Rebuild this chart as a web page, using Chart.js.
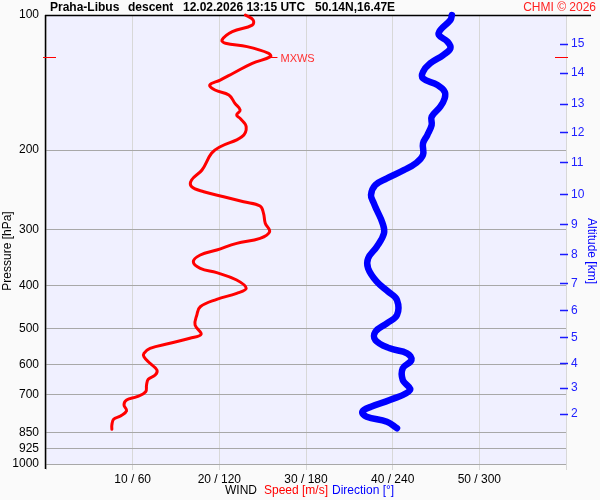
<!DOCTYPE html>
<html>
<head>
<meta charset="utf-8">
<script src="https://cdn.jsdelivr.net/npm/chart.js@4.4.1/dist/chart.umd.min.js"></script>
<style>
  body { margin: 0; background: #fafafa; }
  #wrap { width: 600px; height: 500px; }
</style>
</head>
<body>
<div id="wrap"><canvas id="c" width="600" height="500"></canvas></div>
<script>
// wind speed profile (pressure hPa -> m/s)
const speedPres = [100, 102.6, 105.3, 108.9, 113.7, 115.6, 117.6, 121.7, 123.8, 128.1, 134.8, 139.6, 143.2, 146.9, 150.7, 157.3, 162.8, 167.1, 169.9, 177.4, 186.7, 196.5, 203.2, 221.4, 233.1, 241.2, 247.5, 253.9, 260.5, 266.3, 276.5, 290.9, 303.8, 314.3, 322.5, 333.8, 342.4, 354.4, 366.6, 374.9, 389.2, 406.2, 416.8, 429.9, 446.5, 465.9, 490.3, 514.2, 524.8, 538.5, 552.5, 566.8, 576.8, 596.7, 617.5, 633.6, 647.7, 667.0, 690.2, 708.2, 720.3, 739.0, 760.9, 781.9, 795.2, 818.9, 837.2];
const speed = [23.0, 23.9, 23.8, 21.5, 20.3, 20.7, 23.2, 25.7, 25.9, 23.8, 21.6, 20.1, 18.9, 19.5, 21.1, 21.8, 22.4, 22.0, 22.4, 23.1, 22.6, 20.1, 19.1, 18.0, 16.8, 16.8, 18.2, 20.5, 22.8, 24.7, 25.1, 25.3, 25.8, 24.7, 22.0, 19.7, 17.8, 17.0, 17.8, 19.7, 22.0, 23.1, 22.0, 19.7, 17.8, 17.4, 17.2, 17.9, 16.6, 14.3, 12.0, 11.3, 11.3, 12.0, 12.8, 12.6, 11.8, 11.6, 11.5, 10.5, 9.3, 9.0, 9.3, 8.6, 7.8, 7.6, 7.6];

// wind direction profile (pressure hPa -> degrees)
const dirPres = [100, 102.6, 108.0, 110.8, 114.7, 118.6, 122.8, 128.1, 133.8, 138.4, 143.2, 148.2, 153.3, 160.0, 168.5, 175.8, 185.1, 193.1, 205.0, 213.9, 221.4, 231.1, 239.1, 251.7, 262.7, 271.9, 290.9, 306.4, 328.1, 348.3, 366.6, 392.6, 413.4, 431.3, 465.9, 486.1, 507.5, 529.6, 552.5, 566.8, 586.7, 612.2, 650.2, 684.2, 720.3, 745.4, 764.7, 784.7, 805.0, 832.7];
const direction = [281, 280, 273, 272, 278, 280, 275, 266, 261, 261, 271, 276, 276, 273, 267, 267, 264, 261, 261, 256, 248, 236, 228, 225, 227, 229, 233, 234, 229, 223, 223, 229, 237, 243, 243, 236, 228, 228, 238, 250, 253, 247, 247, 252, 238, 225, 219, 222, 236, 243];

// axis ticks
const pressureTicks = [100, 200, 300, 400, 500, 600, 700, 850, 925, 1000];
const altKm = [2, 3, 4, 5, 6, 7, 8, 9, 10, 11, 12, 13, 14, 15];
const altPres = [772.7, 677.1, 596.7, 522.2, 454.7, 395.9, 341.5, 292.6, 250.8, 212.9, 182.5, 157.8, 134.6, 116.0];
const speedTicks = [0, 10, 20, 30, 40, 50, 60];

const FONT = 'Arial, "Liberation Sans", sans-serif';
Chart.defaults.font.family = FONT;
Chart.defaults.font.size = 12;
Chart.defaults.color = '#000';

// max wind level
const maxIdx = speed.indexOf(Math.max(...speed));
const maxPres = speedPres[maxIdx];

const decor = {
  id: 'decor',
  beforeDraw(chart) {
    const ctx = chart.ctx, a = chart.chartArea;
    ctx.save();
    ctx.fillStyle = '#fafafa';
    ctx.fillRect(0, 0, chart.width, chart.height);
    ctx.fillStyle = '#f0f0ff';
    ctx.fillRect(a.left, a.top, a.right - a.left, a.bottom - a.top);
    ctx.restore();
  },
  beforeDatasetsDraw(chart) {
    const ctx = chart.ctx, a = chart.chartArea;
    ctx.save();
    ctx.strokeStyle = '#000';
    ctx.lineWidth = 1.5;
    ctx.beginPath();
    ctx.moveTo(a.left - 1, a.top + 0.5);
    ctx.lineTo(591, a.top + 0.5);
    ctx.moveTo(a.left - 0.5, a.top);
    ctx.lineTo(a.left - 0.5, a.bottom + 5);
    ctx.stroke();

    // altitude tick marks
    const alt = chart.scales.alt;
    ctx.strokeStyle = '#1a1aff';
    ctx.lineWidth = 1.5;
    alt.ticks.forEach(t => {
      const y = Math.round(alt.getPixelForValue(t.value)) + 0.5;
      ctx.beginPath();
      ctx.moveTo(a.right - 6, y);
      ctx.lineTo(a.right + 2, y);
      ctx.stroke();
    });

    // MXWS markers
    const ys = chart.scales.y;
    const my = Math.round(ys.getPixelForValue(maxPres)) + 0.5;
    ctx.strokeStyle = '#ff0000';
    ctx.lineWidth = 1;
    ctx.beginPath();
    ctx.moveTo(a.left - 3, my); ctx.lineTo(a.left + 10, my);
    ctx.moveTo(a.right - 11, my); ctx.lineTo(a.right + 2, my);
    const mx = chart.scales.x.getPixelForValue(speed[maxIdx]);
    ctx.moveTo(mx, my); ctx.lineTo(mx + 7, my);
    ctx.stroke();
    ctx.fillStyle = '#ff3030';
    ctx.font = '11px ' + FONT;
    ctx.textBaseline = 'middle';
    ctx.fillText('MXWS', mx + 10, my + 1);
    ctx.restore();
  },
  afterDraw(chart) {
    const ctx = chart.ctx;
    ctx.save();
    ctx.textBaseline = 'middle';
    ctx.fillStyle = '#000';
    ctx.font = 'bold 12px ' + FONT;
    ctx.fillText('Praha-Libus', 50, 8);
    ctx.fillText('descent', 128, 8);
    ctx.fillText('12.02.2026 13:15 UTC', 183, 8);
    ctx.fillText('50.14N,16.47E', 315, 8);
    ctx.font = '12px ' + FONT;
    ctx.fillStyle = '#ff2020';
    ctx.textAlign = 'right';
    ctx.fillText('CHMI © 2026', 596, 8);

    ctx.textAlign = 'left';
    ctx.fillStyle = '#000';
    ctx.fillText('WIND', 225, 491);
    ctx.fillStyle = '#ff0000';
    ctx.fillText('Speed [m/s]', 264, 491);
    ctx.fillStyle = '#0000ff';
    ctx.fillText('Direction [°]', 332, 491);

    // axis titles
    ctx.textAlign = 'center';
    ctx.save();
    ctx.translate(8, 251);
    ctx.rotate(-Math.PI / 2);
    ctx.fillStyle = '#000';
    ctx.fillText('Pressure [hPa]', 0, 0);
    ctx.restore();
    ctx.save();
    ctx.translate(591, 251);
    ctx.rotate(Math.PI / 2);
    ctx.fillStyle = '#0000ff';
    ctx.fillText('Altitude [km]', 0, 0);
    ctx.restore();
    ctx.restore();
  }
};

new Chart(document.getElementById('c'), {
  type: 'line',
  data: {
    datasets: [
      {
        label: 'Speed',
        data: speedPres.map((p, i) => ({ x: speed[i], y: p })),
        xAxisID: 'x', yAxisID: 'y',
        borderColor: '#ff0000', borderWidth: 3,
        pointRadius: 0, tension: 0.4, clip: false,
        borderCapStyle: 'round', borderJoinStyle: 'round'
      },
      {
        label: 'Direction',
        data: dirPres.map((p, i) => ({ x: direction[i], y: p })),
        xAxisID: 'xd', yAxisID: 'y',
        borderColor: '#0000ff', borderWidth: 6.5,
        pointRadius: 0, tension: 0.4, clip: false,
        borderCapStyle: 'round', borderJoinStyle: 'round'
      }
    ]
  },
  options: {
    responsive: false,
    animation: false,
    devicePixelRatio: 1,
    layout: { padding: { top: 15, left: 0, right: 0, bottom: 0 } },
    plugins: { legend: { display: false }, tooltip: { enabled: false } },
    scales: {
      x: {
        type: 'linear', position: 'bottom', min: 0, max: 60,
        afterBuildTicks: s => { s.ticks = speedTicks.map(v => ({ value: v })); },
        afterFit: s => { s.height = 36; },
        grid: { color: '#d8d8d8', tickLength: 6 },
        border: { display: false },
        ticks: {
          padding: 2, maxRotation: 0, autoSkip: false,
          callback: v => (v === 0 || v === 60) ? '' : v + ' / ' + v * 6
        }
      },
      xd: { type: 'linear', min: 0, max: 360, display: false },
      y: {
        type: 'logarithmic', position: 'left', reverse: true, min: 100, max: 1000,
        afterBuildTicks: s => { s.ticks = pressureTicks.map(v => ({ value: v })); },
        afterFit: s => { s.width = 46; },
        grid: { color: '#a8a8a8', drawTicks: false },
        border: { display: false },
        ticks: { padding: 7, autoSkip: false, callback: v => String(v) }
      },
      alt: {
        type: 'logarithmic', position: 'right', reverse: true, min: 100, max: 1000,
        afterBuildTicks: s => { s.ticks = altPres.map(v => ({ value: v })); },
        afterFit: s => { s.width = 34; },
        grid: { drawOnChartArea: false, drawTicks: false },
        border: { display: false },
        ticks: {
          padding: 5, autoSkip: false, color: '#2020ff',
          callback: v => String(altKm[altPres.indexOf(v)])
        }
      }
    }
  },
  plugins: [decor]
});
</script>
</body>
</html>
